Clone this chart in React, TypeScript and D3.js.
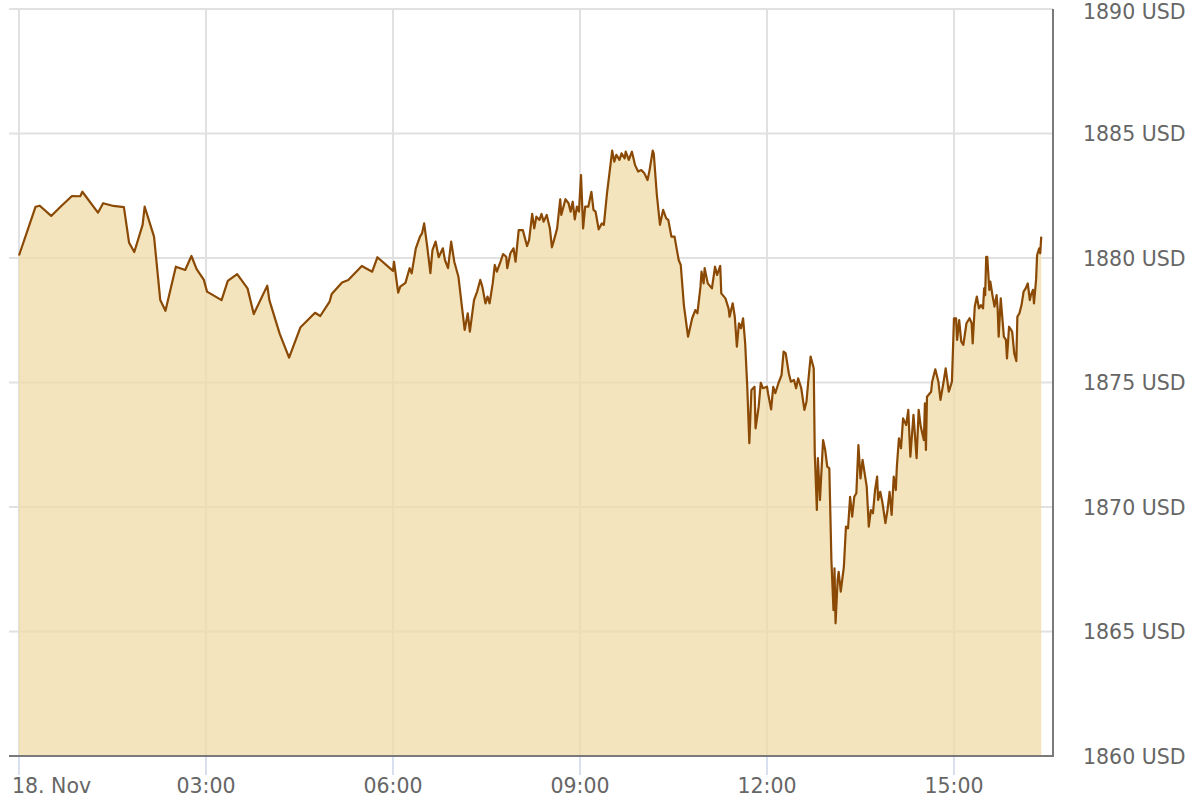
import * as d3 from 'd3'

// gold price, 18 Nov — minutes after midnight and price in USD
const minutes = [
  0, 16, 20, 31, 40, 51, 59, 61, 76, 81, 91, 101, 106, 111, 119, 121, 130, 136, 141, 151,
  160, 166, 171, 178, 181, 195, 201, 210, 220, 226, 239, 241, 251, 260, 271, 285, 290, 299, 301, 311,
  317, 330, 340, 345, 360, 361, 365, 367, 372, 376, 378, 382, 386, 388, 390, 393, 396, 398, 401, 404,
  408, 410, 413, 416, 419, 423, 426, 429, 432, 434, 438, 441, 444, 446, 449, 451, 453, 456, 458, 460,
  463, 466, 469, 470, 473, 476, 478, 481, 485, 489, 491, 494, 496, 498, 501, 503, 505, 508, 511, 513,
  515, 518, 521, 522, 526, 529, 531, 533, 535, 537, 539, 541, 543, 545, 548, 551, 553, 555, 558, 561,
  563, 566, 571, 573, 575, 578, 580, 583, 584, 587, 590, 593, 596, 599, 602, 605, 607, 610, 611, 614,
  617, 620, 623, 625, 628, 631, 635, 637, 640, 644, 648, 651, 653, 656, 657, 659, 660, 663, 667, 670,
  672, 675, 676, 680, 683, 684, 687, 689, 691, 693, 695, 697, 699, 701, 703, 705, 708, 709, 712, 714,
  716, 720, 721, 724, 726, 728, 731, 734, 736, 738, 741, 743, 746, 748, 750, 753, 756, 758, 760, 762,
  765, 766, 768, 769, 771, 774, 776, 778, 780, 782, 784, 785, 786, 788, 789, 791, 794, 796, 798, 800,
  802, 804, 806, 808, 810, 812, 816, 818, 820, 822, 824, 826, 827, 829, 831, 834, 836, 838, 840, 842,
  844, 845, 847, 849, 851, 854, 856, 858, 861, 864, 866, 868, 871, 872, 873, 874, 878, 879, 882, 885,
  887, 890, 892, 895, 898, 900, 902, 903, 905, 907, 909, 912, 915, 917, 918, 920, 922, 924, 926, 928,
  929, 930, 931, 932, 934, 935, 937, 939, 941, 942, 943, 945, 948, 950, 951, 953, 955, 956, 958, 960,
  961, 963, 965, 967, 969, 971, 973, 974, 976, 977, 979, 980, 982, 983, 984,
]

const prices = [
  1880.1, 1882.06, 1882.1, 1881.69, 1882.06, 1882.49, 1882.48, 1882.66, 1881.82, 1882.2, 1882.09, 1882.04, 1880.61, 1880.24, 1881.33, 1882.06, 1880.86, 1878.31, 1877.88, 1879.65,
  1879.52, 1880.08, 1879.55, 1879.12, 1878.65, 1878.31, 1879.08, 1879.35, 1878.78, 1877.75, 1878.89, 1878.31, 1876.95, 1876.0, 1877.22, 1877.8, 1877.67, 1878.25, 1878.55, 1879.02,
  1879.12, 1879.68, 1879.45, 1880.03, 1879.48, 1879.85, 1878.61, 1878.85, 1879.0, 1879.59, 1879.38, 1880.39, 1880.86, 1880.99, 1881.39, 1880.45, 1879.39, 1880.32, 1880.66, 1880.03,
  1880.39, 1879.92, 1879.59, 1880.66, 1879.85, 1879.25, 1878.18, 1877.11, 1877.78, 1877.04, 1878.31, 1878.65, 1879.12, 1878.85, 1878.18, 1878.45, 1878.18, 1878.98, 1879.72, 1879.45,
  1879.79, 1880.16, 1880.05, 1879.59, 1880.19, 1880.39, 1879.85, 1881.12, 1881.12, 1880.48, 1880.72, 1881.77, 1881.19, 1881.66, 1881.53, 1881.77, 1881.46, 1881.73, 1881.19, 1880.43,
  1880.72, 1881.19, 1882.36, 1881.73, 1882.36, 1882.2, 1881.86, 1882.26, 1881.55, 1882.06, 1881.86, 1883.33, 1881.19, 1882.06, 1882.06, 1882.66, 1881.93, 1881.86, 1881.15, 1881.39,
  1881.33, 1882.6, 1884.31, 1883.87, 1884.14, 1883.94, 1884.2, 1884.0, 1884.27, 1883.94, 1884.27, 1883.73, 1883.47, 1883.53, 1883.4, 1883.13, 1883.53, 1884.31, 1884.2, 1882.53,
  1881.33, 1881.93, 1881.59, 1881.53, 1880.86, 1880.86, 1879.92, 1879.72, 1878.11, 1876.84, 1877.58, 1877.91, 1877.78, 1878.85, 1879.45, 1878.98, 1879.59, 1878.98, 1878.78, 1879.65,
  1879.32, 1879.68, 1878.58, 1878.38, 1877.98, 1877.64, 1878.18, 1877.64, 1876.44, 1877.38, 1877.18, 1877.58, 1876.57, 1874.83, 1872.56, 1874.7, 1874.83, 1873.16, 1874.03, 1874.99,
  1874.77, 1874.83, 1874.57, 1873.92, 1874.83, 1874.57, 1874.97, 1875.3, 1876.24, 1876.17, 1875.37, 1875.03, 1875.1, 1874.77, 1875.17, 1874.77, 1873.9, 1874.23, 1875.17, 1876.04,
  1875.57, 1872.15, 1869.88, 1871.96, 1870.28, 1872.69, 1872.29, 1871.62, 1871.55, 1867.87, 1865.86, 1867.54, 1865.33, 1867.07, 1867.4, 1866.6, 1867.6, 1869.21, 1869.14, 1870.41,
  1869.61, 1870.41, 1870.55, 1872.49, 1871.15, 1871.89, 1870.82, 1869.21, 1869.88, 1869.75, 1870.68, 1871.22, 1870.28, 1870.61, 1870.21, 1869.35, 1869.88, 1870.61, 1869.68, 1871.22,
  1870.68, 1871.62, 1872.76, 1872.36, 1873.56, 1873.29, 1873.9, 1872.02, 1873.7, 1871.96, 1873.9, 1873.23, 1872.69, 1874.16, 1872.29, 1874.43, 1874.63, 1875.03, 1875.53, 1875.03,
  1874.3, 1875.03, 1875.57, 1874.63, 1875.03, 1877.58, 1877.58, 1876.71, 1877.51, 1876.64, 1876.51, 1877.38, 1877.58, 1877.38, 1876.57, 1878.05, 1878.45, 1877.98, 1878.11, 1877.98,
  1878.78, 1878.51, 1880.05, 1880.05, 1878.72, 1879.05, 1878.51, 1878.05, 1878.51, 1877.98, 1876.84, 1878.38, 1876.84, 1876.71, 1875.97, 1877.24, 1877.11, 1877.04, 1876.17, 1875.86,
  1877.64, 1877.78, 1878.11, 1878.65, 1878.78, 1878.98, 1878.31, 1878.51, 1878.72, 1878.18, 1879.12, 1880.12, 1880.39, 1880.19, 1880.86,
]

const xTicks = [0, 180, 360, 540, 720, 900]
const xTickLabels = ['18. Nov', '03:00', '06:00', '09:00', '12:00', '15:00']
const yTicks = [1860, 1865, 1870, 1875, 1880, 1885, 1890]

export default function App() {
  const width = 1200
  const height = 800
  const marginLeft = 9
  const marginRight = 147
  const marginTop = 9
  const marginBottom = 44

  const data = minutes.map((m, i) => ({ m, v: prices[i] }))

  // x axis function
  const x = d3.scaleLinear([-9.6, 995.3], [marginLeft, width - marginRight])
  // y axis function
  const y = d3.scaleLinear([1860, 1890], [height - marginBottom, marginTop])

  const area = d3
    .area<{ m: number; v: number }>()
    .x((d) => x(d.m))
    .y0(y(1860))
    .y1((d) => y(d.v))
  const line = d3
    .line<{ m: number; v: number }>()
    .x((d) => x(d.m))
    .y((d) => y(d.v))

  const font = 'DejaVu Sans, sans-serif'

  return (
    <svg
      width={width}
      height={height}
      style={{ position: 'absolute', left: 0, top: 0, background: '#fff' }}
    >
      {/* grid */}
      <g stroke="#e1e1e1" strokeWidth={2}>
        {yTicks.slice(1).map((t) => (
          <line key={t} x1={marginLeft} x2={width - marginRight} y1={y(t)} y2={y(t)} />
        ))}
        {xTicks.map((t) => (
          <line key={t} x1={x(t)} x2={x(t)} y1={marginTop} y2={height - marginBottom} />
        ))}
      </g>

      <path d={area(data) ?? ''} fill="#efdba7" fillOpacity={0.75} />
      <path d={line(data) ?? ''} fill="none" stroke="#8a4904" strokeWidth={2.2} strokeLinejoin="round" />

      {/* axes */}
      <line
        x1={width - marginRight}
        x2={width - marginRight}
        y1={marginTop}
        y2={height - marginBottom}
        stroke="#7a7a7a"
        strokeWidth={2}
      />
      <line
        x1={marginLeft}
        x2={width - marginRight + 1}
        y1={height - marginBottom}
        y2={height - marginBottom}
        stroke="#7a7a7a"
        strokeWidth={2}
      />
      <g stroke="#ccd6eb" strokeWidth={1.5}>
        {xTicks.map((t) => (
          <line key={t} x1={x(t)} x2={x(t)} y1={height - marginBottom + 1} y2={height - marginBottom + 19} />
        ))}
      </g>

      <g fontFamily={font} fontSize={20.5} fill="#666">
        {xTicks.map((t, i) => (
          <text
            key={t}
            x={i === 0 ? 12 : x(t)}
            y={793}
            textAnchor={i === 0 ? 'start' : 'middle'}
          >
            {xTickLabels[i]}
          </text>
        ))}
        {yTicks.map((t) => (
          <text key={t} x={1083} y={Math.max(y(t), 11)} dy="0.38em">
            {t} USD
          </text>
        ))}
      </g>
    </svg>
  )
}
